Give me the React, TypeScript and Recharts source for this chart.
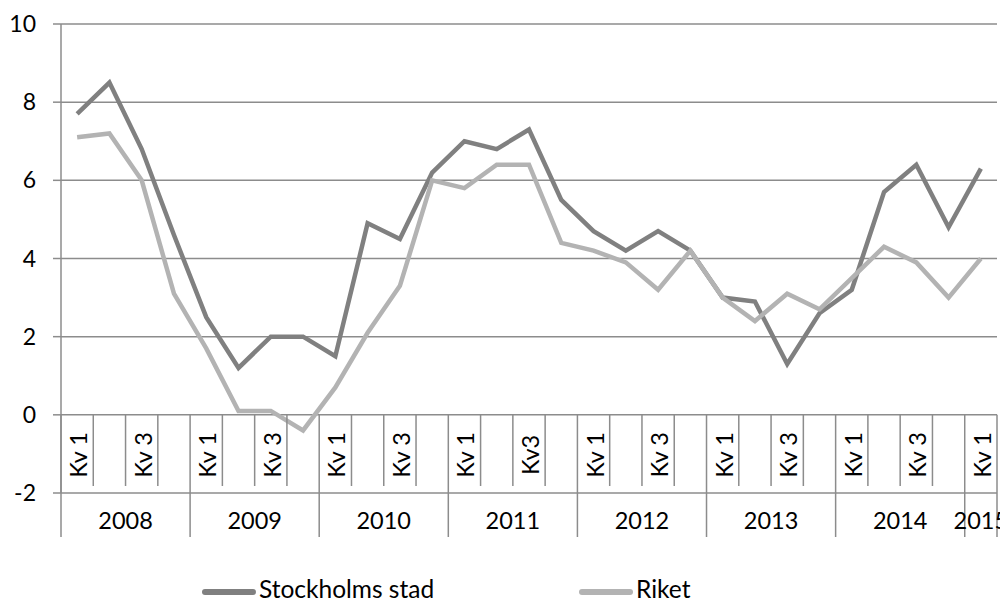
import React from "react";
import { LineChart, Line, XAxis, YAxis, CartesianGrid, Legend } from "recharts";

const years = [2008, 2009, 2010, 2011, 2012, 2013, 2014, 2015];
const quarterLabels = ["Kv 1", "", "Kv 3", ""];
const quarterLabelOverrides: Record<string, string> = { "2011-2": "Kv3" };

const stockholm = [
  7.7, 8.5, 6.8, 4.6,
  2.5, 1.2, 2.0, 2.0,
  1.5, 4.9, 4.5, 6.2,
  7.0, 6.8, 7.3, 5.5,
  4.7, 4.2, 4.7, 4.2,
  3.0, 2.9, 1.3, 2.6,
  3.2, 5.7, 6.4, 4.8,
  6.3,
];
const riket = [
  7.1, 7.2, 6.0, 3.1,
  1.7, 0.1, 0.1, -0.4,
  0.7, 2.1, 3.3, 6.0,
  5.8, 6.4, 6.4, 4.4,
  4.2, 3.9, 3.2, 4.2,
  3.0, 2.4, 3.1, 2.7,
  3.5, 4.3, 3.9, 3.0,
  4.0,
];
const yTicks = [-2, 0, 2, 4, 6, 8, 10];
const Y_MIN = -2;
const Y_MAX = 10;

const data = stockholm.map((s, i) => {
  const year = years[Math.floor(i / 4)];
  const q = i % 4;
  return { key: `${year}-${q}`, year, q, stockholm: s, riket: riket[i] };
});

const FONT = "Lato, 'Open Sans', sans-serif";
const FS = 23.5;
const DARK = "#808080";
const LIGHT = "#b3b3b3";
const GRID = "#8c8c8c";

const CHART_W = 1000;
const CHART_H = 595;
const Y_W = 53;
const X_H = 52;
const LEG_H = 16;
const PLOT_TOP_M = 16;
const PLOT_BOTTOM_TARGET = 485;
const MARGIN = { top: PLOT_TOP_M, right: 11, left: 0, bottom: CHART_H - PLOT_BOTTOM_TARGET - X_H - LEG_H };
const PLOT_TOP = MARGIN.top;
const PLOT_BOTTOM = CHART_H - MARGIN.bottom - LEG_H - X_H;
const PLOT_LEFT = MARGIN.left + Y_W;
const PLOT_RIGHT = CHART_W - MARGIN.right;
const ZERO_Y = PLOT_TOP + ((Y_MAX - 0) / (Y_MAX - Y_MIN)) * (PLOT_BOTTOM - PLOT_TOP);
const BAND = (PLOT_RIGHT - PLOT_LEFT) / data.length;
const HALF = BAND / 2;

function CategoryTick(props: any) {
  const { x, payload } = props;
  const i: number = payload?.index ?? props.index ?? 0;
  const n = data.length;
  const d = data[i];
  if (!d) return null;
  const left = x - HALF;
  const q = d.q;
  const label = quarterLabelOverrides[d.key] ?? quarterLabels[q];
  const qLabelY = ZERO_Y + 40;
  const yearBottom = PLOT_BOTTOM + 44;
  const qBottom = PLOT_BOTTOM - 7;
  const items: React.ReactNode[] = [];
  items.push(
    <line key="sep" x1={left} x2={left} y1={ZERO_Y} y2={q === 0 ? yearBottom : qBottom} stroke={GRID} strokeWidth={1.5} />
  );
  if (i === n - 1) {
    items.push(
      <line key="end" x1={x + HALF} x2={x + HALF} y1={ZERO_Y} y2={yearBottom} stroke={GRID} strokeWidth={1.5} />
    );
  }
  if (label) {
    items.push(
      <text
        key="q"
        x={x + 1}
        y={qLabelY}
        transform={`rotate(-90, ${x + 1}, ${qLabelY})`}
        textAnchor="middle"
        dominantBaseline="central"
        fontFamily={FONT}
        fontSize={FS}
        fill="#000"
      >
        {label}
      </text>
    );
  }
  if (q === 0) {
    const span = Math.min(4, n - i);
    const cx = left + (span * BAND) / 2;
    items.push(
      <text
        key="y"
        x={cx}
        y={PLOT_BOTTOM + 27}
        textAnchor="middle"
        dominantBaseline="central"
        fontFamily={FONT}
        fontSize={FS}
        fill="#000"
      >
        {d.year}
      </text>
    );
  }
  return <g>{items}</g>;
}

function LegendContent() {
  const item = (color: string, text: string, left: number) => (
    <div style={{ position: "absolute", left, top: 0, display: "flex", alignItems: "center", height: LEG_H }}>
      <svg width={54} height={8} style={{ display: "block" }}>
        <line x1={3} x2={51} y1={4} y2={4} stroke={color} strokeWidth={6} strokeLinecap="round" />
      </svg>
      <span
        style={{
          fontFamily: FONT,
          fontSize: 24.5,
          color: "#000",
          marginLeft: 3,
          lineHeight: 1,
          whiteSpace: "nowrap",
          position: "relative",
          top: -3,
        }}
      >
        {text}
      </span>
    </div>
  );
  return (
    <div style={{ position: "relative", width: CHART_W, height: LEG_H }}>
      {item(DARK, "Stockholms stad", 194)}
      {item(LIGHT, "Riket", 571)}
    </div>
  );
}

export default function App() {
  return (
    <div style={{ width: CHART_W, height: CHART_H, background: "#fff", overflow: "hidden", position: "relative" }}>
      <LineChart width={CHART_W} height={CHART_H} data={data} margin={MARGIN}>
        <CartesianGrid vertical={false} stroke={GRID} strokeWidth={1.5} />
        <XAxis
          dataKey="key"
          interval={0}
          height={X_H}
          padding={{ left: HALF, right: HALF }}
          axisLine={false}
          tickLine={false}
          tickSize={0}
          tickMargin={0}
          tick={<CategoryTick />}
        />
        <YAxis
          domain={[Y_MIN, Y_MAX]}
          ticks={yTicks}
          width={Y_W}
          tickSize={8}
          tickMargin={17}
          axisLine={{ stroke: GRID, strokeWidth: 1.5 }}
          tickLine={{ stroke: GRID, strokeWidth: 1.5 }}
          tick={{ fontFamily: FONT, fontSize: 23, fill: "#000" }}
          allowDataOverflow
        />
        <Line dataKey="stockholm" name="Stockholms stad" stroke={DARK} strokeWidth={4.5} dot={false} isAnimationActive={false} />
        <Line dataKey="riket" name="Riket" stroke={LIGHT} strokeWidth={4.5} dot={false} isAnimationActive={false} />
        <Legend
          verticalAlign="bottom"
          height={LEG_H}
          wrapperStyle={{ left: 0, top: CHART_H - LEG_H - 3, width: CHART_W, height: LEG_H }}
          content={<LegendContent />}
        />
      </LineChart>
    </div>
  );
}
